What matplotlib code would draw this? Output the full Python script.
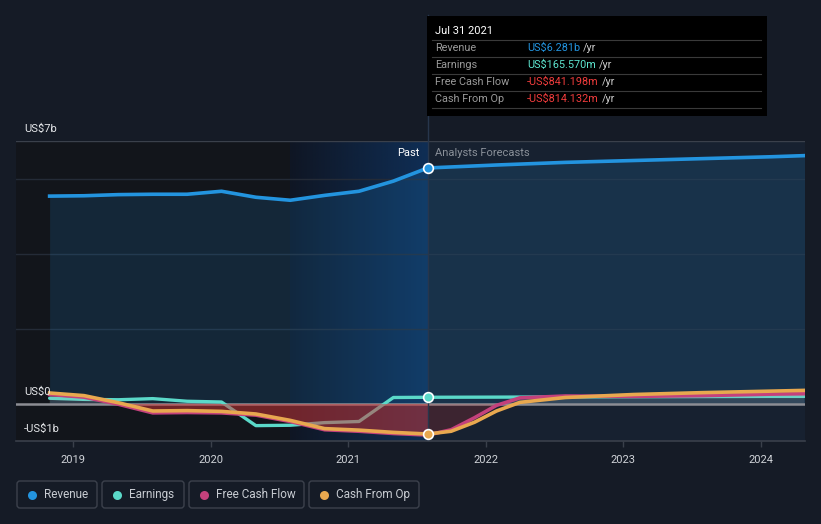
import matplotlib
matplotlib.use('Agg')
import matplotlib.pyplot as plt
import numpy as np
from matplotlib.patches import FancyBboxPatch, Rectangle
from matplotlib.colors import LinearSegmentedColormap

plt.rcParams['font.family'] = ['Roboto', 'DejaVu Sans']

# ---------------- data (US$ billions, decimal years) ----------------
past_dates = [2018.83, 2019.08, 2019.33, 2019.58, 2019.83, 2020.08,
              2020.33, 2020.58, 2020.83, 2021.08, 2021.33, 2021.58]
revenue_past = [5.53, 5.54, 5.57, 5.58, 5.58, 5.66, 5.50, 5.42, 5.55, 5.66, 5.93, 6.281]
earnings_past = [0.14, 0.11, 0.10, 0.13, 0.06, 0.04, -0.59, -0.58, -0.51, -0.48, 0.16, 0.166]
fcf_past = [0.24, 0.17, -0.02, -0.25, -0.24, -0.25, -0.31, -0.48, -0.70, -0.74, -0.80, -0.841]
cfo_past = [0.28, 0.21, 0.02, -0.20, -0.19, -0.21, -0.28, -0.45, -0.67, -0.71, -0.77, -0.814]

rev_fc_dates = [2021.58, 2022.08, 2022.58, 2023.08, 2023.58, 2024.08, 2024.32]
revenue_fc = [6.281, 6.36, 6.43, 6.48, 6.53, 6.58, 6.61]
earn_fc_dates = [2021.58, 2022.08, 2023.08, 2024.08, 2024.32]
earnings_fc = [0.166, 0.17, 0.18, 0.19, 0.19]
cash_fc_dates = [2021.58, 2021.75, 2021.92, 2022.08, 2022.25, 2022.58, 2023.08, 2023.58, 2024.08, 2024.32]
fcf_fc = [-0.841, -0.70, -0.38, -0.05, 0.15, 0.20, 0.19, 0.21, 0.25, 0.26]
cfo_fc = [-0.814, -0.74, -0.50, -0.20, 0.03, 0.16, 0.24, 0.29, 0.33, 0.35]

year_ticks = [2019, 2020, 2021, 2022, 2023, 2024]
y_labels = ['US$7b', 'US$0', '-US$1b']
legend_names = ['Revenue', 'Earnings', 'Free Cash Flow', 'Cash From Op']
tooltip_date = 'Jul 31 2021'
tooltip_rows = [('Revenue', 'US$6.281b'), ('Earnings', 'US$165.570m'),
                ('Free Cash Flow', '-US$841.198m'), ('Cash From Op', '-US$814.132m')]

# ---------------- styles ----------------
C_REV = '#2394df'
C_EARN = '#5bd9c9'
C_FCF = '#c4417c'
C_CFO = '#e8a84f'
BG = '#151b26'

W, H = 821, 524
fig = plt.figure(figsize=(W / 100, H / 100), dpi=100, facecolor=BG)

x_left = 2019 + (16 - 73) / 137.5
x_right = 2019 + (805 - 73) / 137.5
ax = fig.add_axes([16 / W, (H - 441) / H, 789 / W, 300 / H])
ax.set_facecolor(BG)
ax.set_xlim(x_left, x_right)
ax.set_ylim(-1, 7)

now = past_dates[-1]
hl_start = now - 1.0

# zones
ax.axvspan(x_left, hl_start, color='#12151b', zorder=0, lw=0)
ax.axvspan(now, x_right, color='#172130', zorder=0, lw=0)
grad = np.linspace(0, 1, 256).reshape(1, -1)
cm = LinearSegmentedColormap.from_list('hl', ['#0f1624', '#0f2e55'])
ax.imshow(grad, extent=[hl_start, now, -1, 7], aspect='auto', cmap=cm, zorder=0.5)

# grid
for g in [2, 4, 6]:
    ax.axhline(g, color='#242b37', lw=1, zorder=1)
ax.axhline(7, color='#3a404b', lw=1, zorder=1)

# revenue area
all_rev_x = past_dates + rev_fc_dates[1:]
all_rev_y = revenue_past + revenue_fc[1:]
ax.fill_between(all_rev_x, all_rev_y, 0, color=C_REV, alpha=0.15, lw=0, zorder=1.5)

# zero line
ax.axhline(0, color='#8c8d94', lw=1.8, zorder=2)

# earnings
ax.plot(past_dates, earnings_past, color=C_EARN, lw=2.4, zorder=3, solid_capstyle='round')
ax.plot(earn_fc_dates, earnings_fc, color=C_EARN, lw=2.4, zorder=3, solid_capstyle='round')

# cash fills
cash_x = np.array(past_dates + cash_fc_dates[1:])
fcf_all = np.array(fcf_past + fcf_fc[1:])
past_mask = cash_x <= now + 1e-9
fc_mask = cash_x >= now - 1e-9
ax.fill_between(cash_x[past_mask], fcf_all[past_mask], 0, where=fcf_all[past_mask] < 0,
                interpolate=True, color='#d23434', alpha=0.5, lw=0, zorder=4)
ax.fill_between(cash_x[fc_mask], fcf_all[fc_mask], 0, where=fcf_all[fc_mask] < 0,
                interpolate=True, color='#d23434', alpha=0.2, lw=0, zorder=4)
ax.fill_between(cash_x, fcf_all, 0, where=fcf_all > 0,
                interpolate=True, color='#b0b0b0', alpha=0.18, lw=0, zorder=4)

ax.plot(past_dates, fcf_past, color=C_FCF, lw=2.6, zorder=5, solid_joinstyle='round')
ax.plot(cash_fc_dates, fcf_fc, color=C_FCF, lw=2.6, zorder=5, solid_joinstyle='round')
ax.plot(past_dates, cfo_past, color=C_CFO, lw=2.6, zorder=6, solid_joinstyle='round')
ax.plot(cash_fc_dates, cfo_fc, color=C_CFO, lw=2.6, zorder=6, solid_joinstyle='round')

ax.plot(past_dates, revenue_past, color=C_REV, lw=2.6, zorder=7, solid_joinstyle='round')
ax.plot(rev_fc_dates, revenue_fc, color=C_REV, lw=2.6, zorder=7, solid_joinstyle='round')

# vertical "now" line inside axes (under markers)
ax.axvline(now, color='#27364c', lw=1, zorder=8)

# markers at "now"
ax.plot([now], [revenue_past[-1]], 'o', ms=7, mfc=C_REV, mec='white', mew=1.2, zorder=9)
ax.plot([now], [earnings_past[-1]], 'o', ms=7, mfc=C_EARN, mec='white', mew=1.2, zorder=9)
ax.plot([now], [cfo_past[-1]], 'o', ms=7, mfc=C_CFO, mec='white', mew=1.2, zorder=9)

# axes styling
for s in ['top', 'left', 'right']:
    ax.spines[s].set_visible(False)
ax.spines['bottom'].set_color('#3a404b')
ax.spines['bottom'].set_linewidth(1.2)
ax.set_yticks([])
ax.set_xticks(year_ticks)
ax.set_xticklabels([str(y) for y in year_ticks])
ax.tick_params(axis='x', colors='#3a404b', length=4, width=1, labelcolor='#d0d3d8',
               labelsize=8, pad=6)

# ---------------- overlay (pixel coordinates) ----------------
ov = fig.add_axes([0, 0, 1, 1], facecolor='none')
ov.set_xlim(0, W)
ov.set_ylim(H, 0)
ov.axis('off')

ov.plot([428, 428], [15, 141], color='#27364c', lw=1, zorder=1)

ov.text(24, 129, y_labels[0], color='#e6e8eb', fontsize=8, va='center', ha='left')
ov.text(24, 392, y_labels[1], color='#e6e8eb', fontsize=8, va='center', ha='left')
ov.text(24, 429, y_labels[2], color='#e6e8eb', fontsize=8, va='center', ha='left')
ov.text(419, 153, 'Past', color='#ffffff', fontsize=8, va='center', ha='right')
ov.text(435, 153, 'Analysts Forecasts', color='#8a9099', fontsize=8, va='center', ha='left')

# tooltip
ov.add_patch(Rectangle((427, 16), 340, 100, facecolor='#000000', edgecolor='none', zorder=5))
ov.text(435, 31, tooltip_date, color='#ffffff', fontsize=8, va='center', ha='left', zorder=6)
val_colors = [C_REV, '#5ee6d0', '#f03c3c', '#f03c3c']
fig.canvas.draw()
for i, ((lab, val), vc) in enumerate(zip(tooltip_rows, val_colors)):
    yy = 48 + i * 17
    ov.plot([432, 761], [yy - 8.5, yy - 8.5], color='#3a3a3a', lw=0.8, zorder=6)
    ov.text(435, yy, lab, color='#9a9a9a', fontsize=7.8, va='center', ha='left', zorder=6)
    t = ov.text(527, yy, val, color=vc, fontsize=7.8, va='center', ha='left', zorder=6)
    bb = t.get_window_extent(renderer=fig.canvas.get_renderer())
    ov.text(527 + bb.width + 3, yy, '/yr', color='#cccccc', fontsize=7.8, va='center',
            ha='left', zorder=6)
ov.plot([432, 761], [107.5, 107.5], color='#3a3a3a', lw=0.8, zorder=6)

# legend
boxes = [(17, 97), (102, 184), (189, 304), (309, 419)]
leg_colors = [C_REV, C_EARN, C_FCF, C_CFO]
for (x0, x1), name, c in zip(boxes, legend_names, leg_colors):
    ov.add_patch(FancyBboxPatch((x0, 481), x1 - x0, 27, boxstyle='round,pad=0,rounding_size=3',
                                facecolor='none', edgecolor='#3c414c', lw=1))
    ov.plot([x0 + 15], [494.5], 'o', ms=6.5, color=c, mec='none')
    ov.text(x0 + 27, 494.5, name, color='#c8ccd2', fontsize=8.5, va='center', ha='left')

fig.savefig('out.png', dpi=100, facecolor=BG)
